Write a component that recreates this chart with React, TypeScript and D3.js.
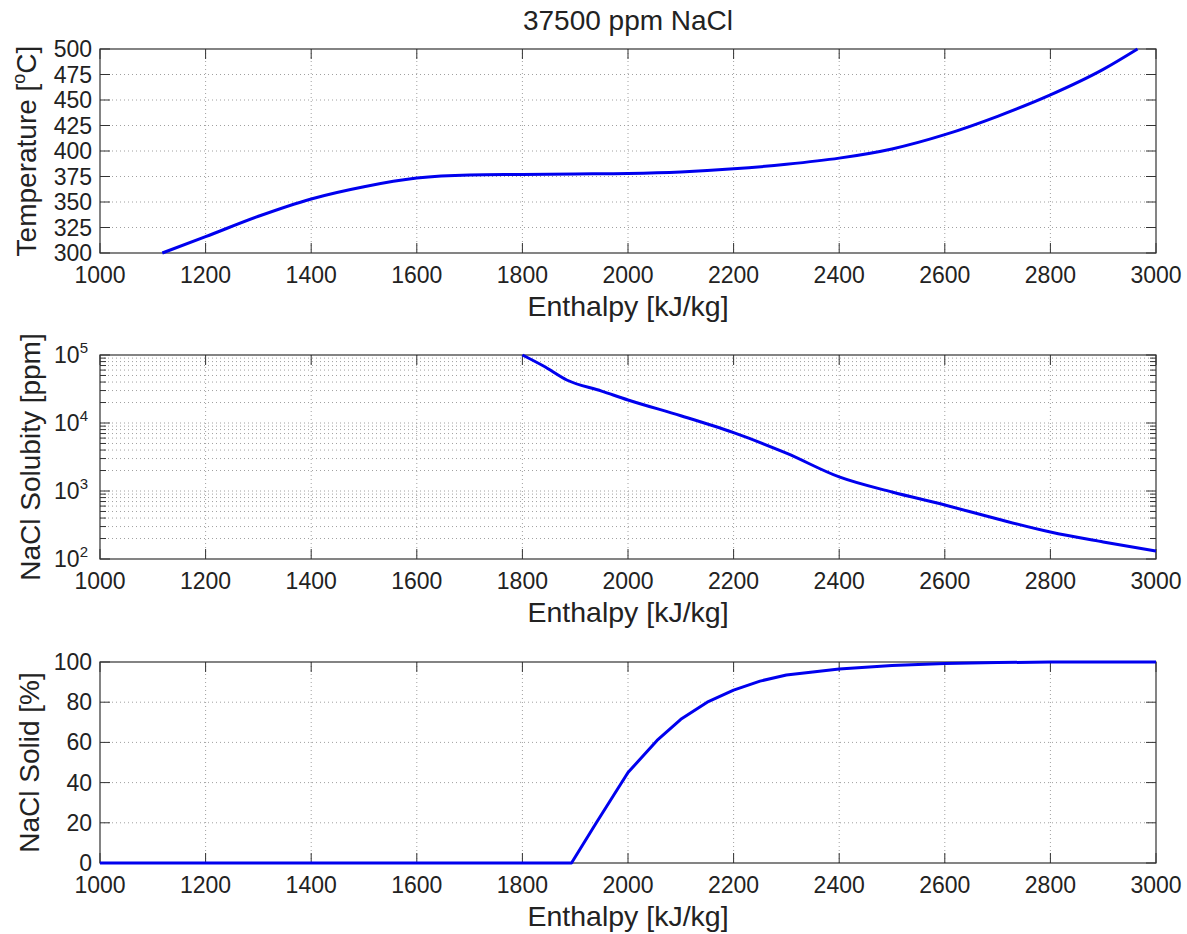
import React from 'react';
import * as d3 from 'd3';

const xTicks = [1000, 1200, 1400, 1600, 1800, 2000, 2200, 2400, 2600, 2800, 3000];
const tempTicks = [300, 325, 350, 375, 400, 425, 450, 475, 500];
const solTicks = [100, 1000, 10000, 100000];
const solidTicks = [0, 20, 40, 60, 80, 100];

const enthalpyT = [1118, 1200, 1300, 1400, 1500, 1600, 1700, 1800, 1900, 2000, 2100, 2200, 2300, 2400, 2500, 2600, 2700, 2800, 2900, 2965];
const temperature = [300, 316, 336, 353, 365, 373.5, 376.5, 377, 377.5, 378, 379.5, 382.5, 387, 393, 402, 416, 434, 455, 480, 500];

const enthalpyS = [1800, 1840, 1884, 1950, 2000, 2100, 2200, 2300, 2400, 2500, 2600, 2700, 2800, 2900, 3000];
const solubility = [100000, 68800, 42900, 29500, 21800, 12800, 7200, 3600, 1610, 966, 622, 387, 249, 178, 131];

const enthalpyN = [1000, 1893, 1940, 2000, 2055, 2100, 2150, 2200, 2250, 2300, 2400, 2500, 2600, 2700, 2800, 3000];
const solidPct = [0, 0, 20, 45, 61, 71.5, 80, 86, 90.5, 93.5, 96.5, 98.2, 99.2, 99.7, 100, 100];

const FONT = "'Liberation Sans', Arial, Helvetica, sans-serif";
const L = 100, R = 1156;
const TICK = 10;
const GRID = '#a0a0a0';
const AXIS = '#333';
const LINE = '#0000ee';

type PanelProps = {
  id: string;
  top: number;
  bottom: number;
  y: any;
  yTicks: number[];
  minorTicks?: number[];
  yLabelFmt: (v: number) => React.ReactNode;
  xs: number[];
  ys: number[];
  ylabel: React.ReactNode;
  ylabelX: number;
  curve: any;
};

const x = d3.scaleLinear().domain([1000, 3000]).range([L, R]);

function Panel(p: PanelProps) {
  const line = d3.line<number>()
    .x((_, i) => x(p.xs[i]))
    .y((_, i) => p.y(p.ys[i]))
    .curve(p.curve);
  const path = line(p.ys) || '';
  const midY = (p.top + p.bottom) / 2;
  return (
    <g>
      <defs>
        <clipPath id={p.id}>
          <rect x={L} y={p.top - 2} width={R - L} height={p.bottom - p.top + 4} />
        </clipPath>
      </defs>
      {(p.minorTicks || []).map((t, i) => (
        <line key={'mg' + i} x1={L} x2={R} y1={p.y(t)} y2={p.y(t)} stroke={GRID} strokeWidth={1} strokeDasharray="1 3" />
      ))}
      {p.yTicks.filter(t => Math.abs(p.y(t) - p.top) > 1 && Math.abs(p.y(t) - p.bottom) > 1).map((t, i) => (
        <line key={'yg' + i} x1={L} x2={R} y1={p.y(t)} y2={p.y(t)} stroke={GRID} strokeWidth={1} strokeDasharray="1 3" />
      ))}
      {xTicks.slice(1, -1).map((t, i) => (
        <line key={'xg' + i} x1={x(t)} x2={x(t)} y1={p.top} y2={p.bottom} stroke={GRID} strokeWidth={1} strokeDasharray="1 3" />
      ))}
      {(p.minorTicks || []).map((t, i) => (
        <g key={'mt' + i}>
          <line x1={L} x2={L + 6} y1={p.y(t)} y2={p.y(t)} stroke={AXIS} />
          <line x1={R} x2={R - 6} y1={p.y(t)} y2={p.y(t)} stroke={AXIS} />
        </g>
      ))}
      {p.yTicks.map((t, i) => (
        <g key={'yt' + i}>
          <line x1={L} x2={L + TICK} y1={p.y(t)} y2={p.y(t)} stroke={AXIS} />
          <line x1={R} x2={R - TICK} y1={p.y(t)} y2={p.y(t)} stroke={AXIS} />
          {p.yLabelFmt(t)}
        </g>
      ))}
      {xTicks.map((t, i) => (
        <g key={'xt' + i}>
          <line x1={x(t)} x2={x(t)} y1={p.bottom} y2={p.bottom - TICK} stroke={AXIS} />
          <line x1={x(t)} x2={x(t)} y1={p.top} y2={p.top + TICK} stroke={AXIS} />
          <text x={x(t)} y={p.bottom + 30} textAnchor="middle" fontSize={23} fontFamily={FONT} fill="#222">{t}</text>
        </g>
      ))}
      <rect x={L} y={p.top} width={R - L} height={p.bottom - p.top} fill="none" stroke={AXIS} strokeWidth={1.2} />
      <path d={path} fill="none" stroke={LINE} strokeWidth={3} clipPath={`url(#${p.id})`} strokeLinejoin="round" />
      <text x={(L + R) / 2} y={p.bottom + 63} textAnchor="middle" fontSize={28.5} fontFamily={FONT} fill="#222">Enthalpy [kJ/kg]</text>
      <text transform={`translate(${p.ylabelX},${midY}) rotate(-90)`} textAnchor="middle" fontSize={28} fontFamily={FONT} fill="#222">{p.ylabel}</text>
    </g>
  );
}

export default function App() {
  const yT = d3.scaleLinear().domain([300, 500]).range([253, 49]);
  const yS = d3.scaleLog().domain([100, 100000]).range([559, 355]);
  const yN = d3.scaleLinear().domain([0, 100]).range([863, 662]);

  const minor: number[] = [];
  [100, 1000, 10000].forEach(d => {
    for (let k = 2; k <= 9; k++) minor.push(d * k);
  });

  const linFmt = (yScale: any) => (v: number) => (
    <text x={L - 8} y={yScale(v) + 8} textAnchor="end" fontSize={23} fontFamily={FONT} fill="#222">{v}</text>
  );
  const logFmt = (v: number) => {
    const e = Math.round(Math.log10(v));
    return (
      <text x={L - 12} y={yS(v) + 8} textAnchor="end" fontSize={23} fontFamily={FONT} fill="#222">
        10<tspan fontSize={15} dy={-10}>{e}</tspan>
      </text>
    );
  };

  return (
    <svg width={1187} height={934} style={{ position: 'absolute', left: 0, top: 0, background: '#fff' }}>
      <rect x={0} y={0} width={1187} height={934} fill="#fff" />
      <text x={(L + R) / 2} y={30} textAnchor="middle" fontSize={28} fontFamily={FONT} fill="#222">37500 ppm NaCl</text>
      <Panel id="c1" top={49} bottom={253} y={yT} yTicks={tempTicks} yLabelFmt={linFmt(yT)}
        xs={enthalpyT} ys={temperature} ylabelX={36} curve={d3.curveMonotoneX}
        ylabel={<>Temperature [<tspan fontSize={18} dy={-11}>o</tspan><tspan dy={11}>C]</tspan></>} />
      <Panel id="c2" top={355} bottom={559} y={yS} yTicks={solTicks} minorTicks={minor} yLabelFmt={logFmt}
        xs={enthalpyS} ys={solubility} ylabelX={40} ylabel="NaCl Solubity [ppm]" curve={d3.curveMonotoneX} />
      <Panel id="c3" top={662} bottom={863} y={yN} yTicks={solidTicks} yLabelFmt={linFmt(yN)}
        xs={enthalpyN} ys={solidPct} ylabelX={39} ylabel="NaCl Solid [%]" curve={d3.curveLinear} />
    </svg>
  );
}
